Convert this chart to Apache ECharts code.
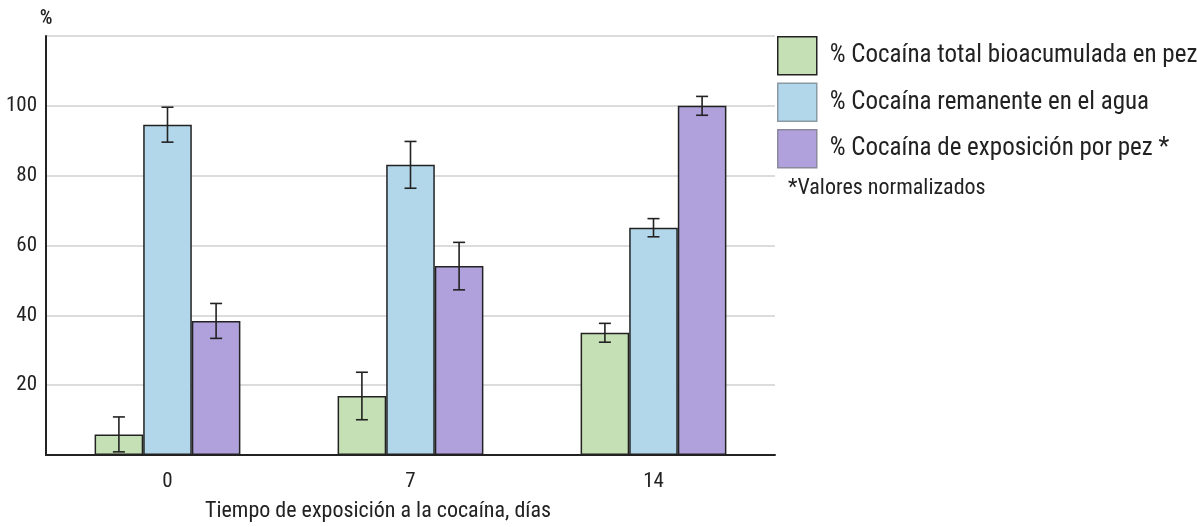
<!DOCTYPE html>
<html>
<head>
<meta charset="utf-8">
<script src="https://cdn.jsdelivr.net/npm/echarts@6/dist/echarts.min.js"></script>
<style>
  html, body { margin: 0; padding: 0; background: #fff; }
  #chart { width: 1197px; height: 527px; }
</style>
</head>
<body>
<div id="chart"></div>
<script>
const days = ['0', '7', '14'];
const seriesNames = [
  '% Cocaína total bioacumulada en pez',
  '% Cocaína remanente en el agua',
  '% Cocaína de exposición por pez *'
];
const bioacumulada = [5.9, 16.9, 35.0];
const bioacumuladaErr = [5.0, 6.8, 2.7];
const remanente = [94.6, 83.1, 65.1];
const remanenteErr = [5.0, 6.7, 2.6];
const exposicion = [38.4, 54.1, 100.0];
const exposicionErr = [5.0, 6.8, 2.7];
const colors = ['#c5e0b4', '#b3d7ea', '#b0a0dc'];
const legendBorders = ['#222', '#8a9aa4', '#8a8a9c'];

const font = '"Roboto Condensed", "Liberation Sans Narrow", Roboto, sans-serif';
const chart = echarts.init(document.getElementById('chart'));

const values = [bioacumulada, remanente, exposicion];
const errors = [bioacumuladaErr, remanenteErr, exposicionErr];

// error bars drawn with a custom series, offset to each bar's slot
function errorSeries(idx) {
  return {
    type: 'custom',
    name: seriesNames[idx] + ' err',
    z: 10,
    data: days.map((d, i) => [i, values[idx][i] - errors[idx][i], values[idx][i] + errors[idx][i]]),
    renderItem: (params, api) => {
      const lo = api.coord([api.value(0), api.value(1)]);
      const hi = api.coord([api.value(0), api.value(2)]);
      const band = api.size([1, 0])[0];
      const barW = band * 0.6 / 3;
      const x = lo[0] + (idx - 1) * barW;
      const cap = 6;
      const style = { stroke: '#222', lineWidth: 1.6 };
      return {
        type: 'group',
        children: [
          { type: 'line', shape: { x1: x, y1: lo[1], x2: x, y2: hi[1] }, style },
          { type: 'line', shape: { x1: x - cap, y1: lo[1], x2: x + cap, y2: lo[1] }, style },
          { type: 'line', shape: { x1: x - cap, y1: hi[1], x2: x + cap, y2: hi[1] }, style }
        ]
      };
    }
  };
}

const option = {
  animation: false,
  textStyle: { fontFamily: font },
  grid: { left: 46, right: 422, top: 36, bottom: 72 },
  legend: {
    data: seriesNames.map((n, i) => ({ name: n, itemStyle: { borderColor: legendBorders[i], borderWidth: 1.5 } })),
    orient: 'vertical',
    left: 777,
    top: 36,
    padding: 0,
    itemWidth: 39,
    itemHeight: 38,
    itemGap: 7,
    icon: 'rect',
    textStyle: { fontFamily: font, fontSize: 25, color: '#222', padding: [0, 0, 0, 8] }
  },
  xAxis: {
    type: 'category',
    data: days,
    axisLine: { lineStyle: { color: '#222', width: 2 } },
    axisTick: { show: false },
    axisLabel: { fontSize: 21, color: '#222', margin: 16, fontFamily: font }
  },
  yAxis: {
    type: 'value',
    min: 0,
    max: 120,
    interval: 20,
    name: '%',
    nameGap: 7,
    nameTextStyle: { fontSize: 20, fontWeight: 500, color: '#222', fontFamily: font, padding: [0, 0, 0, 0] },
    axisLine: { show: true, lineStyle: { color: '#222', width: 2 } },
    axisTick: { show: false },
    splitLine: { lineStyle: { color: '#dcdcdc', width: 2 } },
    axisLabel: {
      fontSize: 21, color: '#222', margin: 9, fontFamily: font,
      formatter: v => (v === 0 || v === 120) ? '' : String(v)
    }
  },
  graphic: [
    {
      type: 'text', left: 788, top: 177,
      style: { text: '*Valores normalizados', font: '22px ' + font, fill: '#222' }
    },
    {
      type: 'text', left: 205, top: 500,
      style: { text: 'Tiempo de exposición a la cocaína, días', font: '22px ' + font, fill: '#222' }
    }
  ],
  series: [
    ...values.map((vals, idx) => ({
      type: 'bar',
      name: seriesNames[idx],
      data: vals,
      barGap: '0%',
      barCategoryGap: '40%',
      itemStyle: {
        color: colors[idx],
        borderColor: '#222',
        borderWidth: 1.5
      }
    })),
    ...[0, 1, 2].map(errorSeries)
  ]
};

chart.setOption(option);
</script>
</body>
</html>
